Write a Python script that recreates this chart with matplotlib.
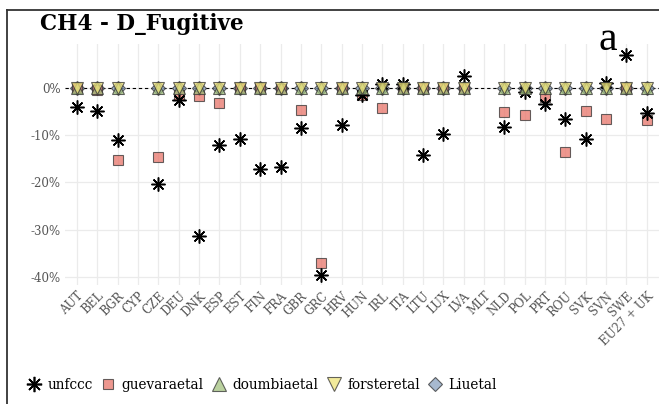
import numpy as np
import matplotlib
matplotlib.use("Agg")
import matplotlib.pyplot as plt
from matplotlib.lines import Line2D

nan = np.nan
countries = ["AUT", "BEL", "BGR", "CYP", "CZE", "DEU", "DNK", "ESP", "EST", "FIN",
             "FRA", "GBR", "GRC", "HRV", "HUN", "IRL", "ITA", "LTU", "LUX", "LVA",
             "MLT", "NLD", "POL", "PRT", "ROU", "SVK", "SVN", "SWE", "EU27 + UK"]
unfccc = [-4.0, -4.9, -11.0, nan, -20.3, -2.6, -31.3, -12.1, -10.8, -17.2,
          -16.7, -8.5, -39.6, -7.8, -1.5, 0.8, 0.8, -14.2, -9.8, 2.5,
          nan, -8.3, -0.8, -3.4, -6.6, -10.8, 1.0, 7.0, -5.3]
guevaraetal = [0.0, -0.4, -15.3, nan, -14.6, -1.5, -1.6, -3.2, 0.0, 0.0,
               -0.3, -4.7, -37.1, 0.0, -1.5, -4.2, 0.0, 0.0, 0.0, 0.0,
               nan, -5.1, -5.8, -1.9, -13.6, -4.9, -6.6, 0.0, -6.8]
doumbiaetal = [0.0, 0.0, 0.0, nan, 0.0, 0.0, 0.0, 0.0, 0.0, 0.0,
               0.0, 0.0, 0.0, 0.0, 0.0, 0.0, 0.0, 0.0, 0.0, 0.0,
               nan, 0.0, 0.0, 0.0, 0.0, 0.0, 0.0, 0.0, 0.0]
forsteretal = list(doumbiaetal)
liuetal = list(doumbiaetal)
yticks = [0, -10, -20, -30, -40]
ytick_labels = ["0%", "-10%", "-20%", "-30%", "-40%"]

serif = "DejaVu Serif"
fig = plt.figure(figsize=(6.59, 4.04), dpi=100)
W, H = 659, 404
ax = fig.add_axes([64.8 / W, 1 - 285.3 / H, (659 - 64.8) / W, (285.3 - 44.1) / H])

x = np.arange(len(countries))
edge = "#333333"
a = 0.75
ax.plot(x, liuetal, ls="none", marker="D", ms=7, mfc="#8aa2c0", mec=edge, mew=0.8, alpha=a, label="Liuetal")
ax.plot(x, guevaraetal, ls="none", marker="s", ms=6.5, mfc="#e8746a", mec=edge, mew=0.8, alpha=a, label="guevaraetal")
ax.plot(x, unfccc, ls="none", marker=(8, 2, 0), ms=10, mec="black", mew=1.1, label="unfccc")
ax.plot(x, doumbiaetal, ls="none", marker="^", ms=9, mfc="#a3c27f", mec=edge, mew=0.8, alpha=a, label="doumbiaetal")
ax.plot(x, forsteretal, ls="none", marker="v", ms=9, mfc="#eee47a", mec=edge, mew=0.8, alpha=a, label="forsteretal")
ax.axhline(0, color="black", lw=0.8, ls=(0, (3, 2.5)), zorder=1)

ax.set_xlim(-0.6, len(countries) - 0.4)
ax.set_ylim(-41.8, 9.3)
ax.set_xticks(x)
ax.set_xticklabels(countries, rotation=45, ha="right", rotation_mode="anchor",
                   fontsize=8.5, color="#555555", family=serif)
ax.set_yticks(yticks)
ax.set_yticklabels(ytick_labels, fontsize=8.5, color="#555555", family=serif)
ax.tick_params(length=0, pad=3)
ax.grid(True, color="#ebebeb", lw=0.9)
ax.set_axisbelow(True)
for s in ax.spines.values():
    s.set_visible(False)

fig.text(40 / W, 1 - 30 / H, "CH4 - D_Fugitive", fontsize=15.5, fontweight="bold",
         family=serif, va="baseline", ha="left")
fig.text(598 / W, 1 - 50 / H, "a", fontsize=30, family="Liberation Serif",
         va="baseline", ha="left")

# frame
fig.add_artist(Line2D([7 / W, 7 / W], [0, 1 - 9.5 / H], color="#333333", lw=1.3, transform=fig.transFigure))
fig.add_artist(Line2D([7 / W, 1], [1 - 9.5 / H, 1 - 9.5 / H], color="#333333", lw=1.3, transform=fig.transFigure))

handles = [
    Line2D([], [], ls="none", marker=(8, 2, 0), ms=11, mec="black", mew=1.2),
    Line2D([], [], ls="none", marker="s", ms=7, mfc="#e8746a", mec=edge, mew=0.8, alpha=a),
    Line2D([], [], ls="none", marker="^", ms=10, mfc="#a3c27f", mec=edge, mew=0.8, alpha=a),
    Line2D([], [], ls="none", marker="v", ms=10, mfc="#eee47a", mec=edge, mew=0.8, alpha=a),
    Line2D([], [], ls="none", marker="D", ms=7.5, mfc="#8aa2c0", mec=edge, mew=0.8, alpha=a),
]
labels = ["unfccc", "guevaraetal", "doumbiaetal", "forsteretal", "Liuetal"]
fig.legend(handles, labels, loc="center left", bbox_to_anchor=(22 / W, 1 - 385 / H),
           ncol=5, frameon=False, prop={"family": serif, "size": 9.8},
           handlelength=1.0, handletextpad=0.5, columnspacing=0.6, borderaxespad=0)

fig.savefig("out.png", dpi=100)
